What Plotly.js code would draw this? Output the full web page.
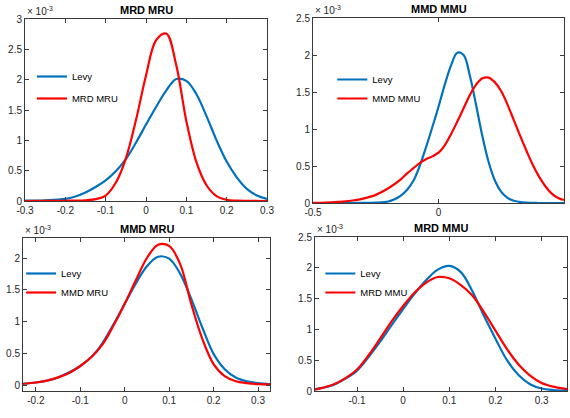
<!DOCTYPE html>
<html>
<head>
<meta charset="utf-8">
<script src="https://cdn.plot.ly/plotly-3.0.1.min.js"></script>
<style>html,body{margin:0;padding:0;background:#fff}#chart{width:570px;height:418px}</style>
</head>
<body>
<div id="chart"></div>
<script>
// Values are densities in units of 10^-3
// Panel 1: MRD MRU
const p1LevyX = [-0.3,-0.25,-0.2,-0.175,-0.15,-0.125,-0.1,-0.075,-0.05,-0.025,0,0.025,0.05,0.075,0.1,0.125,0.15,0.175,0.2,0.225,0.25,0.275,0.3];
const p1LevyY = [0.005,0.012,0.035,0.075,0.14,0.23,0.34,0.49,0.69,0.96,1.26,1.55,1.82,2.01,1.98,1.76,1.4,1.0,0.65,0.39,0.2,0.09,0.035];
const p1ModelX = [-0.3,-0.25,-0.2,-0.175,-0.15,-0.125,-0.1,-0.075,-0.05,-0.025,0,0.025,0.05,0.075,0.1,0.125,0.15,0.175,0.2,0.225,0.25,0.3];
const p1ModelY = [0,0.001,0.003,0.006,0.012,0.03,0.09,0.3,0.7,1.33,2.07,2.65,2.76,2.24,1.32,0.64,0.26,0.08,0.02,0.006,0.002,0];

// Panel 2: MMD MMU
const p2LevyX = [-0.5,-0.4,-0.3,-0.25,-0.2,-0.175,-0.15,-0.125,-0.1,-0.075,-0.05,-0.025,0,0.025,0.05,0.075,0.1,0.125,0.15,0.175,0.2,0.225,0.25,0.275,0.3,0.35,0.4,0.5];
const p2LevyY = [0,0,0.001,0.005,0.02,0.05,0.1,0.18,0.3,0.5,0.75,1.02,1.3,1.6,1.86,2.03,2.0,1.72,1.32,0.9,0.55,0.3,0.15,0.07,0.03,0.005,0,0];
const p2ModelX = [-0.5,-0.45,-0.4,-0.35,-0.3,-0.25,-0.2,-0.15,-0.125,-0.1,-0.075,-0.05,-0.025,0,0.025,0.05,0.075,0.1,0.125,0.15,0.175,0.2,0.225,0.25,0.275,0.3,0.325,0.35,0.375,0.4,0.425,0.45,0.475,0.5];
const p2ModelY = [0.003,0.006,0.015,0.03,0.06,0.11,0.2,0.32,0.4,0.47,0.54,0.59,0.63,0.68,0.78,0.93,1.1,1.28,1.46,1.6,1.685,1.695,1.63,1.51,1.33,1.12,0.91,0.71,0.52,0.36,0.23,0.13,0.07,0.04];

// Panel 3: MMD MRU
const p3LevyX = [-0.229,-0.2,-0.175,-0.15,-0.125,-0.1,-0.075,-0.05,-0.025,0,0.025,0.05,0.075,0.1,0.125,0.15,0.175,0.2,0.225,0.25,0.275,0.3,0.327];
const p3LevyY = [0.02,0.04,0.07,0.12,0.2,0.3,0.44,0.66,0.96,1.28,1.6,1.87,2.02,1.99,1.75,1.35,0.9,0.49,0.25,0.12,0.06,0.03,0.015];
const p3ModelX = [-0.229,-0.2,-0.175,-0.15,-0.125,-0.1,-0.075,-0.05,-0.025,0,0.025,0.05,0.075,0.1,0.125,0.15,0.175,0.2,0.225,0.25,0.275,0.3,0.327];
const p3ModelY = [0.02,0.04,0.07,0.12,0.19,0.3,0.44,0.64,0.94,1.28,1.65,2.0,2.21,2.19,1.9,1.27,0.72,0.33,0.14,0.06,0.03,0.015,0.01];

// Panel 4: MRD MMU
const p4LevyX = [-0.191,-0.175,-0.15,-0.125,-0.1,-0.075,-0.05,-0.025,0,0.025,0.05,0.075,0.1,0.125,0.15,0.175,0.2,0.225,0.25,0.275,0.3,0.325,0.355];
const p4LevyY = [0.03,0.05,0.1,0.2,0.33,0.55,0.8,1.07,1.33,1.58,1.8,1.97,2.03,1.93,1.62,1.22,0.85,0.5,0.26,0.11,0.04,0.015,0.005];
const p4ModelX = [-0.191,-0.175,-0.15,-0.125,-0.1,-0.075,-0.05,-0.025,0,0.025,0.05,0.075,0.1,0.125,0.15,0.175,0.2,0.225,0.25,0.275,0.3,0.325,0.355];
const p4ModelY = [0.02,0.05,0.11,0.21,0.35,0.58,0.85,1.13,1.38,1.6,1.76,1.85,1.83,1.72,1.55,1.28,0.98,0.68,0.43,0.25,0.13,0.07,0.03];

const titles = ["MRD MRU","MMD MMU","MMD MRU","MRD MMU"];
const xTicks = [[-0.3,-0.2,-0.1,0,0.1,0.2,0.3],[-0.5,0,0.5],[-0.2,-0.1,0,0.1,0.2,0.3],[-0.1,0,0.1,0.2,0.3]];
const xTickText = [["-0.3","-0.2","-0.1","0","0.1","0.2","0.3"],["-0.5","0","0.5"],["-0.2","-0.1","0","0.1","0.2","0.3"],["-0.1","0","0.1","0.2","0.3"]];
const yTicks = [[0,0.5,1,1.5,2,2.5,3],[0,0.5,1,1.5,2,2.5],[0,0.5,1,1.5,2],[0,0.5,1,1.5,2,2.5]];
const yTickText = [["0","0.5","1","1.5","2","2.5","3"],["0","0.5","1","1.5","2","2.5"],["0","0.5","1","1.5","2"],["0","0.5","1","1.5","2","2.5"]];

const levyX = [p1LevyX,p2LevyX,p3LevyX,p4LevyX];
const levyY = [p1LevyY,p2LevyY,p3LevyY,p4LevyY];
const modelX = [p1ModelX,p2ModelX,p3ModelX,p4ModelX];
const modelY = [p1ModelY,p2ModelY,p3ModelY,p4ModelY];

const xRanges = [[-0.3,0.3],[-0.5,0.5],[-0.229,0.327],[-0.191,0.355]];
const yRanges = [[0,3],[0,2.5],[-0.094,2.315],[0,2.5]];
const xDomains = [[25/570,267/570],[313/570,564/570],[23/570,270/570],[315/570,567/570]];
const yDomains = [[1-201/418,1-19/418],[1-203/418,1-18/418],[1-391/418,1-238/418],[1-391/418,1-237/418]];
const legendPos = [[0.056,1-62/418],[0.583,1-65/418],[0.037,1-259/418],[0.562,1-259/418]];
const legendGap = [3,0,0,0];

const BLUE = "#0072BD", RED = "#FF0000", AX = "#3a3a3a";
const FONT = "Liberation Sans, Arial, Helvetica, sans-serif";

const traces = [];
const layout = {
  width:570, height:418, margin:{l:0,r:0,t:0,b:0},
  paper_bgcolor:"#fff", plot_bgcolor:"#fff",
  font:{family:FONT,size:10,color:"#262626"},
  annotations:[], showlegend:true
};
for (let i=0;i<4;i++){
  const n = i===0?"":String(i+1);
  const xa = "x"+n, ya = "y"+n, lg = "legend"+n;
  traces.push({x:levyX[i],y:levyY[i],type:"scatter",mode:"lines",name:"Levy",
    line:{color:BLUE,width:2.2,shape:"spline",smoothing:1},xaxis:xa,yaxis:ya,legend:lg,legendgroup:"a"+i,hoverinfo:"skip"});
  traces.push({x:modelX[i],y:modelY[i],type:"scatter",mode:"lines",name:titles[i],
    line:{color:RED,width:2.2,shape:"spline",smoothing:1},xaxis:xa,yaxis:ya,legend:lg,legendgroup:"b"+i,hoverinfo:"skip"});
  const axCommon = {showgrid:false,zeroline:false,showline:true,linecolor:AX,linewidth:1,mirror:"ticks",
    ticks:"inside",ticklen:4,tickcolor:AX,tickfont:{family:FONT,size:10,color:"#262626"},fixedrange:true};
  layout["xaxis"+n] = Object.assign({},axCommon,{domain:xDomains[i],range:xRanges[i],anchor:ya,
    tickmode:"array",tickvals:xTicks[i],ticktext:xTickText[i]});
  layout["yaxis"+n] = Object.assign({},axCommon,{domain:yDomains[i],range:yRanges[i],anchor:xa,
    tickmode:"array",tickvals:yTicks[i],ticktext:yTickText[i]});
  layout[lg] = {x:legendPos[i][0],y:legendPos[i][1],xanchor:"left",yanchor:"top",bgcolor:"rgba(0,0,0,0)",
    borderwidth:0,font:{family:FONT,size:9.5,color:"#000"},itemwidth:30,traceorder:"grouped",tracegroupgap:legendGap[i]};
  layout.annotations.push({text:"<b>"+titles[i]+"</b>",xref:xa+" domain",yref:ya+" domain",x:0.5,y:1,
    xanchor:"center",yanchor:"bottom",yshift:1,showarrow:false,font:{family:FONT,size:11,color:"#000"}});
  layout.annotations.push({text:"× 10<sup>-3</sup>",xref:xa+" domain",yref:ya+" domain",x:0,y:1,
    xanchor:"left",yanchor:"bottom",yshift:0,showarrow:false,font:{family:FONT,size:10,color:"#262626"}});
}
Plotly.newPlot("chart",traces,layout,{staticPlot:true,displayModeBar:false});
</script>
</body>
</html>
